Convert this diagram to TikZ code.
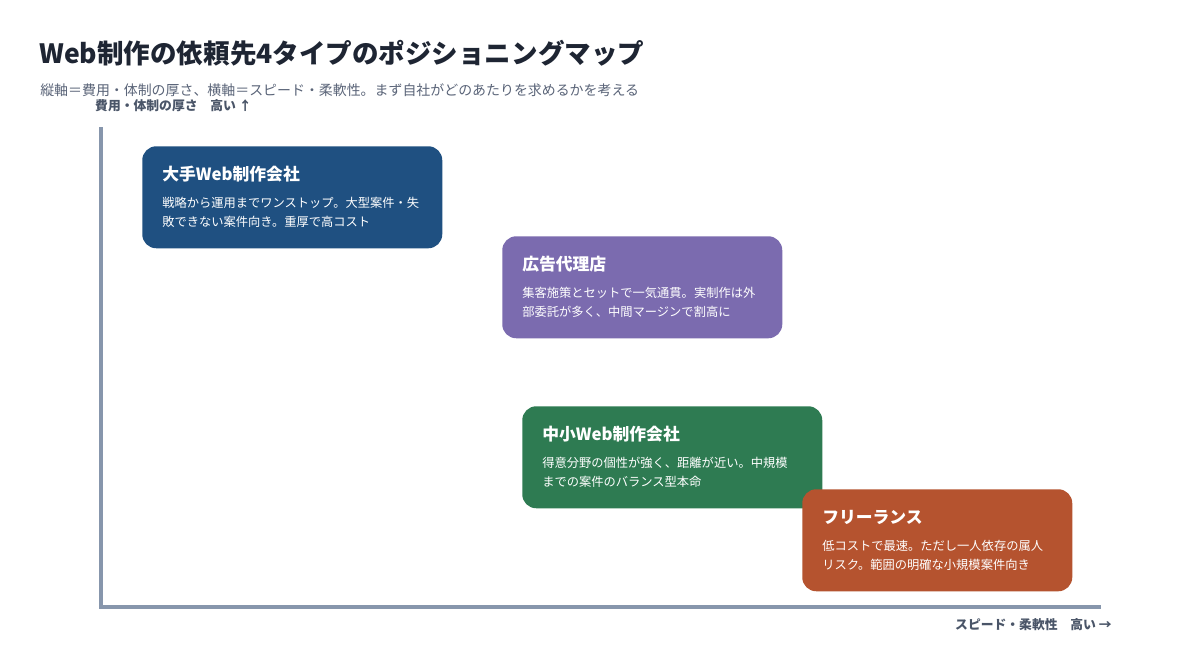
\documentclass[tikz,border=0pt]{standalone}
\usepackage{fontspec}
\setmainfont{Noto Sans CJK JP}
\usetikzlibrary{positioning}
\definecolor{titleink}{HTML}{1E2533}
\definecolor{subink}{HTML}{5A6478}
\definecolor{axisink}{HTML}{4A5568}
\definecolor{axisline}{HTML}{8796AC}
\definecolor{bigblue}{HTML}{1F5081}
\definecolor{adpurple}{HTML}{7B6BAF}
\definecolor{smallgreen}{HTML}{2E7B52}
\definecolor{freeorange}{HTML}{B5532F}

\begin{document}
\begin{tikzpicture}[
    x=0.75pt, y=-0.75pt,
    card/.style = {rectangle, rounded corners=10.5pt, anchor=north west, text=white, align=left, minimum height=76.5pt, inner xsep=15pt, inner ysep=0pt, font=\fontsize{9.2}{14.25}\selectfont},
    axislabel/.style = {inner sep=0pt, text=axisink, font=\bfseries\fontsize{9.6}{12}\selectfont},
    axis/.style = {draw=axisline, line width=2.3pt}]

    \useasboundingbox[fill=white] (0,0) rectangle (1200,647);

    \node[anchor=west, inner sep=0pt, text=titleink, font=\bfseries\fontsize{19.9}{23}\selectfont] (title) at (39,53) {Web制作の依頼先4タイプのポジショニングマップ};
    \node[anchor=west, inner sep=0pt, text=subink, font=\fontsize{10.45}{13}\selectfont] (subtitle) at (40,90) {縦軸＝費用・体制の厚さ、横軸＝スピード・柔軟性。まず自社がどのあたりを求めるかを考える};

    % axes
    \coordinate (ytop) at (101,127);
    \coordinate (xend) at (1101,607);
    \draw[axis] (ytop) |- (xend);
    \node[axislabel, anchor=east] (ylabel) at (252,106) {費用・体制の厚さ\quad 高い ↑};
    \node[axislabel, anchor=east] (xlabel) at (1112,625) {スピード・柔軟性\quad 高い →};

    % the four types
    \node[card, fill=bigblue, text width=195pt] (large) at (142,146) {{\bfseries\fontsize{12.6}{15}\selectfont 大手Web制作会社}\\[6pt]戦略から運用までワンストップ。大型案件・失\\敗できない案件向き。重厚で高コスト};
    \node[card, fill=adpurple, text width=180pt] (agency) at (502,236) {{\bfseries\fontsize{12.6}{15}\selectfont 広告代理店}\\[6pt]集客施策とセットで一気通貫。実制作は外\\部委託が多く、中間マージンで割高に};
    \node[card, fill=smallgreen, text width=195pt] (small) at (522,406) {{\bfseries\fontsize{12.6}{15}\selectfont 中小Web制作会社}\\[6pt]得意分野の個性が強く、距離が近い。中規模\\までの案件のバランス型本命};
    \node[card, fill=freeorange, text width=172.5pt] (freelance) at (802,489) {{\bfseries\fontsize{12.6}{15}\selectfont フリーランス}\\[6pt]低コストで最速。ただし一人依存の属人\\リスク。範囲の明確な小規模案件向き};
\end{tikzpicture}
\end{document}
